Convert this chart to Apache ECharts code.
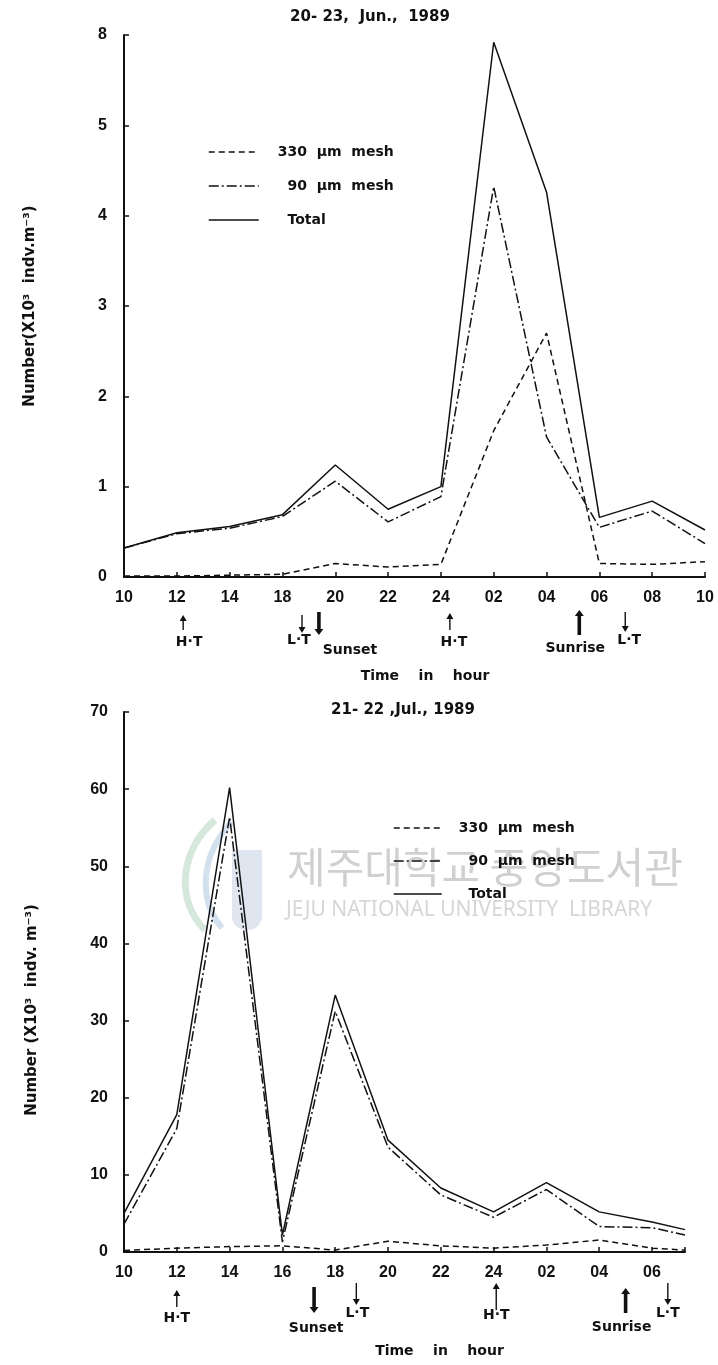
<!DOCTYPE html>
<html>
<head>
<meta charset="utf-8">
<script src="https://cdn.jsdelivr.net/npm/echarts@6/dist/echarts.min.js"></script>
<style>
html,body{margin:0;padding:0;background:#fff;}
#c{width:718px;height:1365px;}
</style>
</head>
<body>
<div id="c"></div>
<script>
// ===== Top panel: 20-23 Jun. 1989 =====
const topTitle = '20- 23,  Jun.,  1989';
const topCategories = ['10','12','14','18','20','22','24','02','04','06','08','10'];
const topYTickLabels = ['0','1','2','3','4','5','8'];
const top330   = [0.01,0.01,0.02,0.03,0.15,0.11,0.14,1.62,2.70,0.15,0.14,0.17];
const top90    = [0.32,0.48,0.54,0.67,1.06,0.61,0.89,4.32,1.55,0.55,0.73,0.37];
const topTotal = [0.32,0.49,0.56,0.69,1.24,0.75,1.00,5.92,4.26,0.66,0.84,0.52];
// events under the top axis (position in category-index units)
const topEventAt    = [1.12, 3.37, 3.69, 6.17, 8.62, 9.49];
const topEventLabel = ['H·T','L·T','Sunset','H·T','Sunrise','L·T'];
const topEventDir   = ['up','down','down','up','up','down'];
const topEventBold  = [false,false,true,false,true,false];

// ===== Bottom panel: 21-22 Jul. 1989 =====
const bottomTitle = '21- 22 ,Jul., 1989';
const bottomHours = [0,2,4,6,8,10,12,14,16,18,20,21.25]; // hours after 10:00
const bottomTickLabels = ['10','12','14','16','18','20','22','24','02','04','06'];
const bottomYTickLabels = ['0','10','20','30','40','50','60','70'];
const bottom330   = [0.2,0.5,0.7,0.8,0.25,1.4,0.8,0.5,0.9,1.55,0.5,0.25];
const bottom90    = [3.6,16.0,56.4,1.3,31.2,13.6,7.4,4.5,8.1,3.3,3.15,2.2];
const bottomTotal = [5.0,17.8,60.2,2.2,33.3,14.5,8.3,5.2,9.0,5.2,3.9,2.9];
const bottomEventAt    = [2.0, 7.2, 8.8, 14.1, 19.0, 20.6];
const bottomEventLabel = ['H·T','Sunset','L·T','H·T','Sunrise','L·T'];
const bottomEventDir   = ['up','down','down','up','up','down'];
const bottomEventBold  = [false,true,false,false,true,false];

const seriesNames = ['330 µm mesh','90 µm mesh','Total'];
const legendText = {'330 µm mesh':'330  µm  mesh','90 µm mesh':'  90  µm  mesh','Total':'  Total'};

// ----- layout / style (not data) -----
const INK = '#111';
const NUMFONT = 'Liberation Sans';
const WORDFONT = 'DejaVu Sans';
const dashStyles = [[6,4],[10,3,2,3],'solid'];
// event layout offsets below baseline: [arrowStart, arrowEnd, textY, textDx]
const topEventLayout = [[38,53,65,6],[38,56,63,-3],[35,58,73,31],[36,53,65,4],[33,58,71,-4],[35,55,63,4]];
const bottomEventLayout = [[38,55,66,0],[35,61,76,2],[31,53,61,1],[31,58,63,0],[36,61,75,-4],[31,53,61,0]];

const chart = echarts.init(document.getElementById('c'));

function mkSeries(name, xs, ys, gi, dash) {
  return {
    type:'line', name, xAxisIndex:gi, yAxisIndex:gi, symbol:'none',
    data: ys.map((v,i)=>[xs[i], v]),
    lineStyle:{color:INK, width:1.5, type:dash},
    itemStyle:{color:INK},
    z: name === 'Total' ? 4 : 3,
    animation:false
  };
}
const topIdx = topCategories.map((_,i)=>i);

function axisBase() {
  return {
    axisLine:{show:true, onZero:false, lineStyle:{color:INK, width:2}},
    axisTick:{show:true, inside:true, length:5, lineStyle:{color:INK, width:1.5}},
    splitLine:{show:false}
  };
}
const tickText = {color:INK, fontFamily:NUMFONT, fontWeight:'bold', fontSize:16};
const nameText = {color:INK, fontFamily:WORDFONT, fontWeight:'bold', fontSize:14};
const legendCommon = {
  orient:'vertical', itemHeight:14, selectedMode:false,
  formatter:n=>legendText[n],
  itemStyle:{color:'rgba(0,0,0,0)', borderWidth:0, opacity:0},
  lineStyle:{color:INK, width:1.5}
};

const option = {
  animation:false,
  backgroundColor:'#fff',
  grid:[
    {left:124, top:35, width:581, height:542},
    {left:124, top:712, width:561, height:540}
  ],
  xAxis:[
    Object.assign(axisBase(), {
      gridIndex:0, type:'value', min:0, max:11, interval:1,
      axisLabel:Object.assign({margin:13, formatter:v=>topCategories[Math.round(v)] ?? ''}, tickText),
      name:'Time    in    hour', nameLocation:'middle', nameGap:92,
      nameTextStyle:Object.assign({padding:[0,0,0,21]}, nameText)
    }),
    Object.assign(axisBase(), {
      gridIndex:1, type:'value', min:0, max:21.25, interval:2,
      axisLabel:Object.assign({margin:13, formatter:v=>(Math.abs(v/2-Math.round(v/2))<1e-6 ? (bottomTickLabels[Math.round(v/2)] ?? '') : '')}, tickText),
      name:'Time    in    hour', nameLocation:'middle', nameGap:92,
      nameTextStyle:Object.assign({padding:[0,0,0,70]}, nameText)
    })
  ],
  yAxis:[
    Object.assign(axisBase(), {
      gridIndex:0, type:'value', min:0, max:6, interval:1,
      axisLabel:Object.assign({margin:17, formatter:v=>topYTickLabels[Math.round(v)] ?? ''}, tickText),
      name:'Number(X10³  indv.m⁻³)', nameLocation:'middle', nameGap:86,
      nameTextStyle:Object.assign({}, nameText, {fontSize:15})
    }),
    Object.assign(axisBase(), {
      gridIndex:1, type:'value', min:0, max:70, interval:10,
      axisLabel:Object.assign({margin:16, formatter:v=>bottomYTickLabels[Math.round(v/10)] ?? ''}, tickText),
      name:'Number (X10³  indv. m⁻³)', nameLocation:'middle', nameGap:84,
      nameTextStyle:Object.assign({padding:[0,56,0,0]}, nameText, {fontSize:15})
    })
  ],
  legend:[
    Object.assign({}, legendCommon, {data:seriesNames, left:203, top:140, itemWidth:50, itemGap:20,
     textStyle:{color:INK, fontFamily:WORDFONT, fontWeight:'bold', fontSize:14, padding:[0,0,0,14]}}),
    Object.assign({}, legendCommon, {data:seriesNames, left:388, top:816, itemWidth:48, itemGap:19,
     textStyle:{color:INK, fontFamily:WORDFONT, fontWeight:'bold', fontSize:14, padding:[0,0,0,12]}})
  ],
  series:[
    mkSeries(seriesNames[0], topIdx, top330, 0, dashStyles[0]),
    mkSeries(seriesNames[1], topIdx, top90, 0, dashStyles[1]),
    mkSeries(seriesNames[2], topIdx, topTotal, 0, dashStyles[2]),
    mkSeries(seriesNames[0], bottomHours, bottom330, 1, dashStyles[0]),
    mkSeries(seriesNames[1], bottomHours, bottom90, 1, dashStyles[1]),
    mkSeries(seriesNames[2], bottomHours, bottomTotal, 1, dashStyles[2])
  ]
};
chart.setOption(option);

function arrowEls(x, yA, yB, dir, bold) {
  const lw = bold ? 3.6 : 1.4;
  const hw = bold ? 4.5 : 3.5;
  const hh = 6;
  const els = [];
  if (dir === 'up') {
    els.push({type:'line', shape:{x1:x, y1:yA+hh-1, x2:x, y2:yB}, style:{stroke:INK, lineWidth:lw}});
    els.push({type:'polygon', shape:{points:[[x,yA],[x-hw,yA+hh],[x+hw,yA+hh]]}, style:{fill:INK}});
  } else {
    els.push({type:'line', shape:{x1:x, y1:yA, x2:x, y2:yB-hh+1}, style:{stroke:INK, lineWidth:lw}});
    els.push({type:'polygon', shape:{points:[[x,yB],[x-hw,yB-hh],[x+hw,yB-hh]]}, style:{fill:INK}});
  }
  return els;
}

function eventGraphics(gi, ats, labels, dirs, bolds, layout) {
  const base = chart.convertToPixel({gridIndex:gi}, [0,0])[1];
  const out = [];
  ats.forEach((t,i)=>{
    const x = chart.convertToPixel({gridIndex:gi}, [t,0])[0];
    const L = layout[i];
    arrowEls(x, base+L[0], base+L[1], dirs[i], bolds[i]).forEach(e=>out.push(e));
    out.push({type:'text', x:x+L[3], y:base+L[2],
      style:{text:labels[i], fill:INK, font:'bold 14px "DejaVu Sans"', textAlign:'center', textVerticalAlign:'middle'}});
  });
  return out;
}

const titleEls = [
  {type:'text', x:370, y:17, style:{text:topTitle, fill:INK, font:'bold 15px "DejaVu Sans"', textAlign:'center', textVerticalAlign:'middle'}},
  {type:'text', x:403, y:710, style:{text:bottomTitle, fill:INK, font:'bold 15px "DejaVu Sans"', textAlign:'center', textVerticalAlign:'middle'}}
];
// faint library watermark of the scanned page
const watermark = [
  {type:'bezierCurve', z:-10, shape:{x1:215, y1:820, cpx1:180, cpy1:850, cpx2:175, cpy2:900, x2:205, y2:930}, style:{stroke:'#d6e8dc', lineWidth:7, fill:null}},
  {type:'bezierCurve', z:-10, shape:{x1:232, y1:822, cpx1:200, cpy1:855, cpx2:198, cpy2:900, x2:222, y2:928}, style:{stroke:'#d3e0ee', lineWidth:6, fill:null}},
  {type:'rect', z:-10, shape:{x:232, y:850, width:30, height:80, r:[0,0,14,14]}, style:{fill:'#dfe6f0'}},
  {type:'text', x:287, y:867, z:-10, style:{text:'제주대학교 중앙도서관', fill:'#d0d0d0', font:'42px "Noto Sans CJK KR"', textAlign:'left', textVerticalAlign:'middle'}},
  {type:'text', x:286, y:910, z:-10, style:{text:'JEJU NATIONAL UNIVERSITY  LIBRARY', fill:'#d6d6d6', font:'21px "Noto Sans"', textAlign:'left', textVerticalAlign:'middle'}}
];

chart.setOption({
  graphic:{elements: watermark.concat(titleEls,
    eventGraphics(0, topEventAt, topEventLabel, topEventDir, topEventBold, topEventLayout),
    eventGraphics(1, bottomEventAt, bottomEventLabel, bottomEventDir, bottomEventBold, bottomEventLayout))}
});
</script>
</body>
</html>
